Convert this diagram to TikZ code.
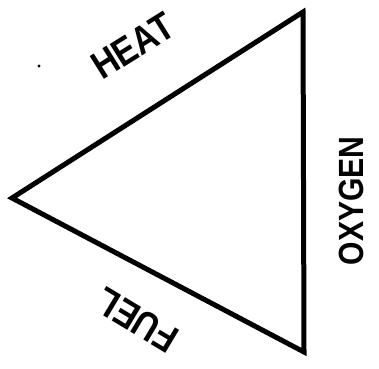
\documentclass[tikz,border=0pt]{standalone}
\usepackage{fontspec}
\usepackage{graphicx}
\newfontfamily\labfont{Liberation Sans}
\newcommand{\narrowtext}[1]{\scalebox{0.86}[1]{#1}}
\begin{document}
\begin{tikzpicture}[x=1pt,y=-1pt,
  edge/.style={line width=5pt,line join=miter},
  lab/.style={inner sep=0pt,font=\labfont\bfseries\fontsize{35}{35}\selectfont},
  biglab/.style={inner sep=0pt,font=\labfont\bfseries\fontsize{39}{39}\selectfont}]
\useasboundingbox (0,0) rectangle (379,368);
\coordinate (T) at (303,12);
\coordinate (L) at (12,198);
\coordinate (B) at (304,352);
\draw[edge] (T) -- (L) -- (B) -- cycle;
\node[biglab,rotate=32] (heat) at (133,46) {\narrowtext{HEAT}};
\node[lab,rotate=90] (oxy) at (351,201) {\narrowtext{OXYGEN}};
\node[biglab,rotate=149] (fuel) at (137,320) {\narrowtext{FUEL}};
\fill (39,66) circle (1.6);
\end{tikzpicture}
\end{document}
